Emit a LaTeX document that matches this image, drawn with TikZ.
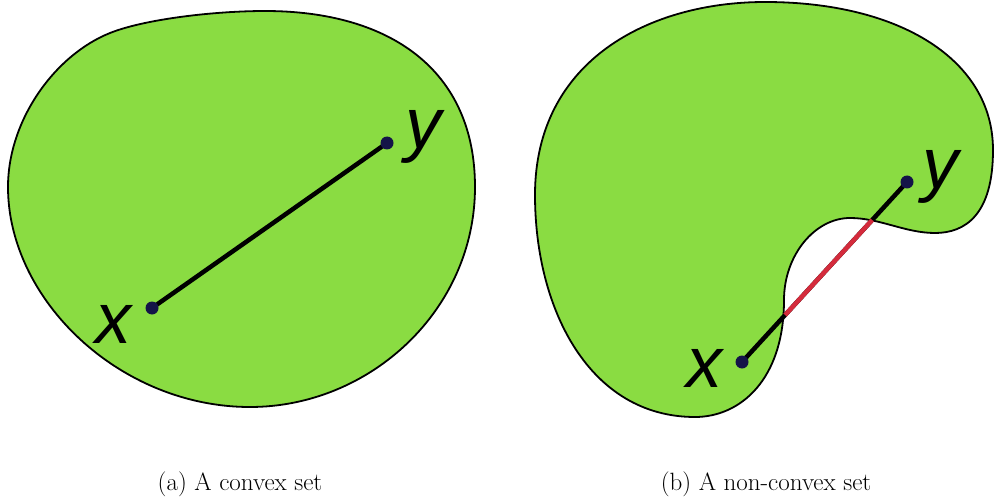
\documentclass[tikz,border=0pt]{standalone}
\usepackage{fontspec}
\newfontfamily\lblfont{Liberation Sans}
\usetikzlibrary{calc}
\definecolor{blobgreen}{RGB}{138,220,66}
\definecolor{dotblue}{RGB}{20,20,72}
\definecolor{segred}{RGB}{212,43,60}
\begin{document}
\begin{tikzpicture}[x=1pt,y=-1pt,
  blob/.style={fill=blobgreen, draw=black, line width=1.8pt},
  seg/.style={line width=4.5pt, draw=black},
  redseg/.style={line width=4.5pt, draw=segred},
  dot/.style={circle, fill=dotblue, inner sep=0pt, minimum size=13pt},
  lbl/.style={font=\fontsize{72}{80}\selectfont\lblfont\itshape, inner sep=0pt, anchor=base},
  captext/.style={font=\fontsize{25}{30}\selectfont, inner sep=0pt, anchor=base}]
\useasboundingbox (0,0) rectangle (995,497);

% convex set
\draw[blob] (8,187)
  .. controls (8,120) and (55,55) .. (110,33)
  .. controls (145,19) and (215,11) .. (265,11)
  .. controls (390,11) and (475,70) .. (475,187)
  .. controls (475,310) and (370,407) .. (250,407)
  .. controls (120,407) and (8,300) .. cycle;

% non-convex set
\draw[blob] (535,195)
  .. controls (535,60) and (650,2) .. (765,2)
  .. controls (900,2) and (993,60) .. (993,150)
  .. controls (993,215) and (965,233) .. (935,233)
  .. controls (905,233) and (880,218) .. (850,218)
  .. controls (815,218) and (784,255) .. (784,300)
  .. controls (784,380) and (740,417) .. (695,417)
  .. controls (590,417) and (535,310) .. cycle;

% points
\coordinate (ax) at (152,308);
\coordinate (ay) at (387,143);
\coordinate (bx) at (742,362);
\coordinate (by) at (907,182);

\draw[seg] (ax) -- (ay);
\draw[seg] (bx) -- (by);
\draw[redseg] ($(by)!0.211!(bx)$) -- ($(by)!0.739!(bx)$);

\node[dot] (dax) at (ax) {};
\node[dot] (day) at (ay) {};
\node[dot] (dbx) at (bx) {};
\node[dot] (dby) at (by) {};

\node[lbl] (lax) at (113,343) {x};
\node[lbl] (lay) at (423,149) {y};
\node[lbl] (lbx) at (704,387) {x};
\node[lbl] (lby) at (940,189) {y};

\node[captext] (capa) at (240,490) {(a) A convex set};
\node[captext] (capb) at (766,490) {(b) A non-convex set};
\end{tikzpicture}
\end{document}
